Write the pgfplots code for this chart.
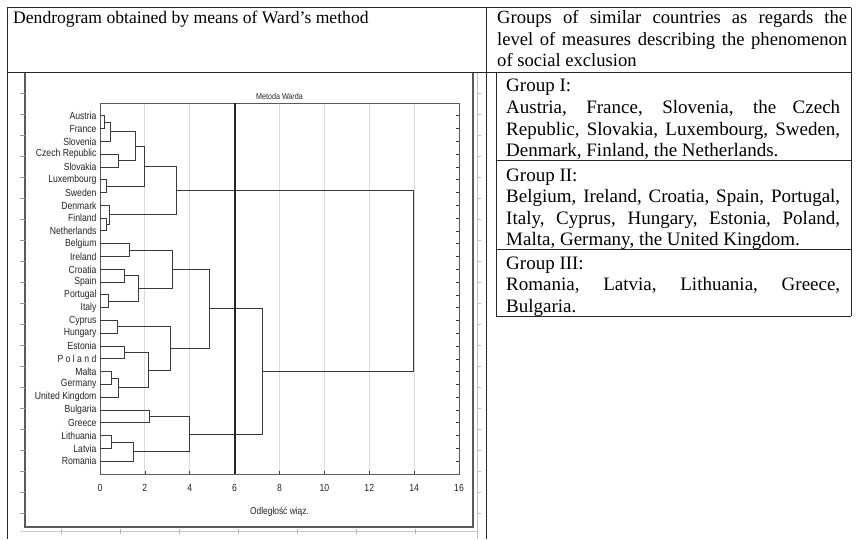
\documentclass[border=0pt]{standalone}
\usepackage{fontspec}
\setmainfont{Liberation Serif}
\newfontfamily\narrow[FakeStretch=0.84]{Liberation Sans}
\usepackage{pgfplots}
\pgfplotsset{compat=1.18}
\definecolor{dline}{HTML}{3A3A3A}
\definecolor{gridc}{HTML}{DCDCDC}
\definecolor{framec}{HTML}{5A5A5A}
\pgfplotsset{link/.style={dline, line width=0.9pt, mark=none}}
\begin{document}
\begin{tikzpicture}
\useasboundingbox (0pt,0pt) rectangle (858pt,539pt);
\fill[white] (0pt,0pt) rectangle (858pt,539pt);
% ---- outer table ----
\begin{scope}[line width=1pt, black!85]
\draw (7pt,531pt) -- (851pt,531pt);
\draw (7pt,466pt) -- (851pt,466pt);
\draw (7pt,531pt) -- (7pt,0pt);
\draw (486pt,531pt) -- (486pt,0pt);
\draw (851pt,531pt) -- (851pt,223pt);
\draw (496pt,466pt) -- (496pt,223pt) -- (851pt,223pt);
\draw (496pt,378pt) -- (851pt,378pt);
\draw (496pt,290pt) -- (851pt,290pt);
\end{scope}
% ---- header texts ----
\node[anchor=base west, inner sep=0pt, font={\fontsize{17.6}{21.5}\selectfont}] at (13pt,515pt) {Dendrogram obtained by means of Ward’s method};
\node[anchor=base west, inner sep=0pt, text width=350pt, align=justify, font={\fontsize{18.6}{21.5}\selectfont}] at (497pt,515pt)
 {Groups of similar countries as regards the\linebreak level of measures describing the phenomenon\linebreak of social exclusion};
% ---- group texts ----
\node[anchor=base west, inner sep=0pt, text width=334pt, align=justify, font={\fontsize{19}{21.6}\selectfont}] at (506pt,447pt)
 {Group I:\\ Austria, France, Slovenia, the Czech\linebreak Republic, Slovakia, Luxembourg, Sweden,\linebreak Denmark, Finland, the Netherlands.};
\node[anchor=base west, inner sep=0pt, text width=334pt, align=justify, font={\fontsize{19}{21.6}\selectfont}] at (506pt,358pt)
 {Group II:\\ Belgium, Ireland, Croatia, Spain, Portugal,\linebreak Italy, Cyprus, Hungary, Estonia, Poland,\linebreak Malta, Germany, the United Kingdom.};
\node[anchor=base west, inner sep=0pt, text width=334pt, align=justify, font={\fontsize{19}{21.6}\selectfont}] at (506pt,270pt)
 {Group III:\\ Romania, Latvia, Lithuania, Greece,\linebreak Bulgaria.};
% ---- statistica panel frame and ruler marks ----
\draw[framec, line width=1.2pt] (25pt,466pt) -- (25pt,12pt) -- (473pt,12pt) -- (473pt,466pt);
\draw[black!25, line width=0.8pt] (477pt,466pt) -- (477pt,0pt);
\draw[black!20, line width=0.8pt] (20pt,8pt) -- (477pt,8pt);
\foreach \k in {0,...,20} {
  \draw[black!40, line width=0.7pt] (20pt,446pt-\k*21pt) -- (25pt,446pt-\k*21pt);
  \draw[black!25, line width=0.7pt] (477pt,446pt-\k*21pt) -- (481pt,446pt-\k*21pt);
}
\foreach \k in {0,...,6} {
  \draw[black!30, line width=0.7pt] (61pt+\k*59pt,5pt) -- (61pt+\k*59pt,10pt);
}
% ---- dendrogram ----
\begin{axis}[
  at={(100pt,65pt)}, anchor=south west,
  scale only axis, width=359pt, height=371pt,
  xmin=0, xmax=16, ymin=0, ymax=29, y dir=reverse,
  xtick={0,2,...,16},
  ytick={1,...,28},
  yticklabels={Austria,France,Slovenia,Czech Republic,Slovakia,Luxembourg,Sweden,Denmark,Finland,Netherlands,Belgium,Ireland,Croatia,Spain,Portugal,Italy,Cyprus,Hungary,Estonia,P o l a n d,Malta,Germany,United Kingdom,Bulgaria,Greece,Lithuania,Latvia,Romania},
  tick align=inside, xtick pos=bottom, ytick pos=right, yticklabel pos=left,
  major tick length=3pt,
  tick style={dline, line width=0.7pt},
  xmajorgrids, grid style={gridc, line width=0.9pt},
  axis line style={framec, line width=1pt},
  /pgf/number format/assume math mode=true,
  ticklabel style={font=\narrow\fontsize{10.3}{12}\selectfont, text=black!85},
  xticklabel style={yshift=-7pt},
  title={Metoda Warda},
  title style={font=\narrow\fontsize{8.5}{10}\selectfont, text=black!85, at={(0.5,1)}, anchor=south, yshift=-4pt, inner sep=1.5pt},
  xlabel={Odległość wiąz.},
  xlabel style={font=\narrow\fontsize{10}{12}\selectfont, text=black!85, yshift=-8pt},
]
\addplot[link] coordinates {(0,1) (0.18,1) (0.18,2) (0,2)};
\addplot[link] coordinates {(0.18,1.5) (0.47,1.5) (0.47,3) (0,3)};
\addplot[link] coordinates {(0,4) (0.81,4) (0.81,5) (0,5)};
\addplot[link] coordinates {(0.47,2.25) (1.56,2.25) (1.56,4.5) (0.81,4.5)};
\addplot[link] coordinates {(0,6) (0.27,6) (0.27,7) (0,7)};
\addplot[link] coordinates {(1.56,3.375) (1.97,3.375) (1.97,6.5) (0.27,6.5)};
\addplot[link] coordinates {(0,9) (0.27,9) (0.27,10) (0,10)};
\addplot[link] coordinates {(0,8) (0.44,8) (0.44,9.5) (0.27,9.5)};
\addplot[link] coordinates {(1.97,4.9375) (3.42,4.9375) (3.42,8.75) (0.44,8.75)};
\addplot[link] coordinates {(0,11) (1.30,11) (1.30,12) (0,12)};
\addplot[link] coordinates {(0,13) (1.11,13) (1.11,14) (0,14)};
\addplot[link] coordinates {(0,15) (0.36,15) (0.36,16) (0,16)};
\addplot[link] coordinates {(1.11,13.5) (1.70,13.5) (1.70,15.5) (0.36,15.5)};
\addplot[link] coordinates {(1.30,11.5) (3.21,11.5) (3.21,14.5) (1.70,14.5)};
\addplot[link] coordinates {(0,17) (0.77,17) (0.77,18) (0,18)};
\addplot[link] coordinates {(0,19) (1.08,19) (1.08,20) (0,20)};
\addplot[link] coordinates {(0,21) (0.52,21) (0.52,22) (0,22)};
\addplot[link] coordinates {(0.52,21.5) (0.81,21.5) (0.81,23) (0,23)};
\addplot[link] coordinates {(1.08,19.5) (2.15,19.5) (2.15,22.25) (0.81,22.25)};
\addplot[link] coordinates {(0.77,17.5) (3.14,17.5) (3.14,20.875) (2.15,20.875)};
\addplot[link] coordinates {(3.21,13) (4.86,13) (4.86,19.1875) (3.14,19.1875)};
\addplot[link] coordinates {(0,24) (2.19,24) (2.19,25) (0,25)};
\addplot[link] coordinates {(0,26) (0.52,26) (0.52,27) (0,27)};
\addplot[link] coordinates {(0.52,26.5) (1.48,26.5) (1.48,28) (0,28)};
\addplot[link] coordinates {(2.19,24.5) (4.0,24.5) (4.0,27.25) (1.48,27.25)};
\addplot[link] coordinates {(4.86,16.09375) (7.26,16.09375) (7.26,25.875) (4.0,25.875)};
\addplot[link] coordinates {(3.42,6.84375) (13.97,6.84375) (13.97,20.984375) (7.26,20.984375)};
\addplot[black!85, line width=1.8pt, mark=none] coordinates {(6,0) (6,29)};
\end{axis}
\end{tikzpicture}
\end{document}
